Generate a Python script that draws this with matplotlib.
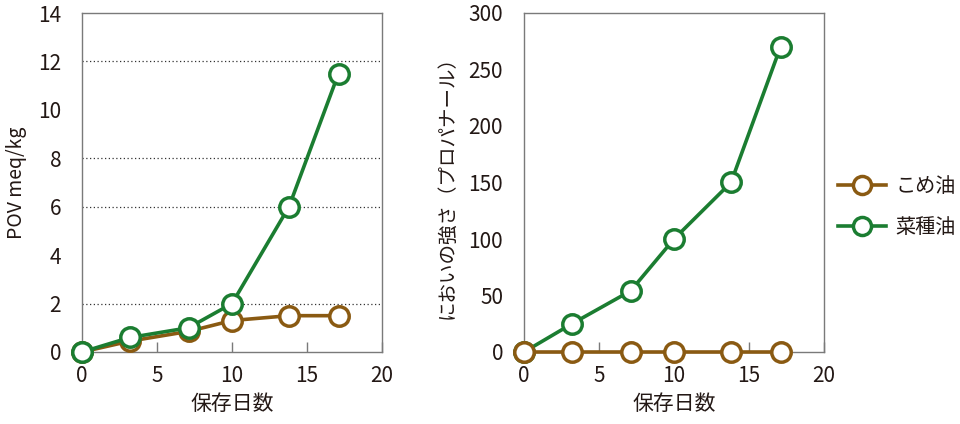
import matplotlib
matplotlib.use("Agg")
import matplotlib.pyplot as plt
from matplotlib.lines import Line2D

plt.rcParams['font.family'] = ['Noto Sans CJK JP', 'DejaVu Sans']

days = [0, 3.2, 7.1, 10, 13.8, 17.1]
pov_kome = [0, 0.45, 0.85, 1.3, 1.5, 1.5]
pov_natane = [0, 0.6, 1.0, 2.0, 6.0, 11.5]
odor_kome = [0, 0, 0, 0, 0, 0]
odor_natane = [0, 25, 54, 100, 150, 270]
grid_levels = [2, 6, 8, 12]
labels = ['こめ油', '菜種油']

brown = '#8a5a12'
green = '#1b7d31'
text_c = '#231815'
spine_c = '#7a7a7a'

fig = plt.figure(figsize=(9.6, 4.24), dpi=100)
W, H = 960, 424
ax1 = fig.add_axes([82 / W, 1 - 352 / H, 300 / W, 339 / H])
ax2 = fig.add_axes([524 / W, 1 - 352 / H, 300 / W, 339 / H])

mk = dict(marker='o', markersize=14, markerfacecolor='white', markeredgewidth=2.5,
          linewidth=2.6, clip_on=False)

for ax in (ax1, ax2):
    ax.set_xlim(0, 20)
    ax.set_xticks([0, 5, 10, 15, 20])
    ax.tick_params(axis='x', direction='in', length=7, width=1, color=spine_c,
                   pad=9, labelsize=15, labelcolor=text_c)
    ax.tick_params(axis='y', length=0, pad=15, labelsize=15, labelcolor=text_c)
    for s in ax.spines.values():
        s.set_color(spine_c)
        s.set_linewidth(1)
    ax.set_xlabel('保存日数', fontsize=15, color=text_c, labelpad=5)

ax1.set_ylim(0, 14)
ax1.set_yticks(range(0, 15, 2))
for g in grid_levels:
    ax1.axhline(g, color='#333333', linestyle=(0, (1, 2)), linewidth=0.9, zorder=0)
ax1.plot(days, pov_kome, color=brown, zorder=3, **mk)
ax1.plot(days, pov_natane, color=green, zorder=4, **mk)
ax1.set_ylabel('POV meq/kg', fontsize=14, color=text_c, labelpad=8)

ax2.set_ylim(0, 300)
ax2.set_yticks(range(0, 301, 50))
ax2.plot(days, odor_natane, color=green, zorder=3, **mk)
ax2.plot(days, odor_kome, color=brown, zorder=4, **mk)
ax2.set_ylabel('においの強さ（プロパナール）', fontsize=14, color=text_c, labelpad=8)

handles = [Line2D([], [], color=brown, marker='o', markersize=13, markerfacecolor='white',
                  markeredgewidth=2.5, linewidth=2.6),
           Line2D([], [], color=green, marker='o', markersize=13, markerfacecolor='white',
                  markeredgewidth=2.5, linewidth=2.6)]
leg = fig.legend(handles, labels, loc='center left', bbox_to_anchor=(838 / W, 1 - 207 / H),
                 frameon=False, fontsize=14.5, handlelength=2.4, labelspacing=0.95,
                 handletextpad=0.45, borderpad=0, borderaxespad=0)
for t in leg.get_texts():
    t.set_color(text_c)

fig.savefig('out.png', dpi=100)
